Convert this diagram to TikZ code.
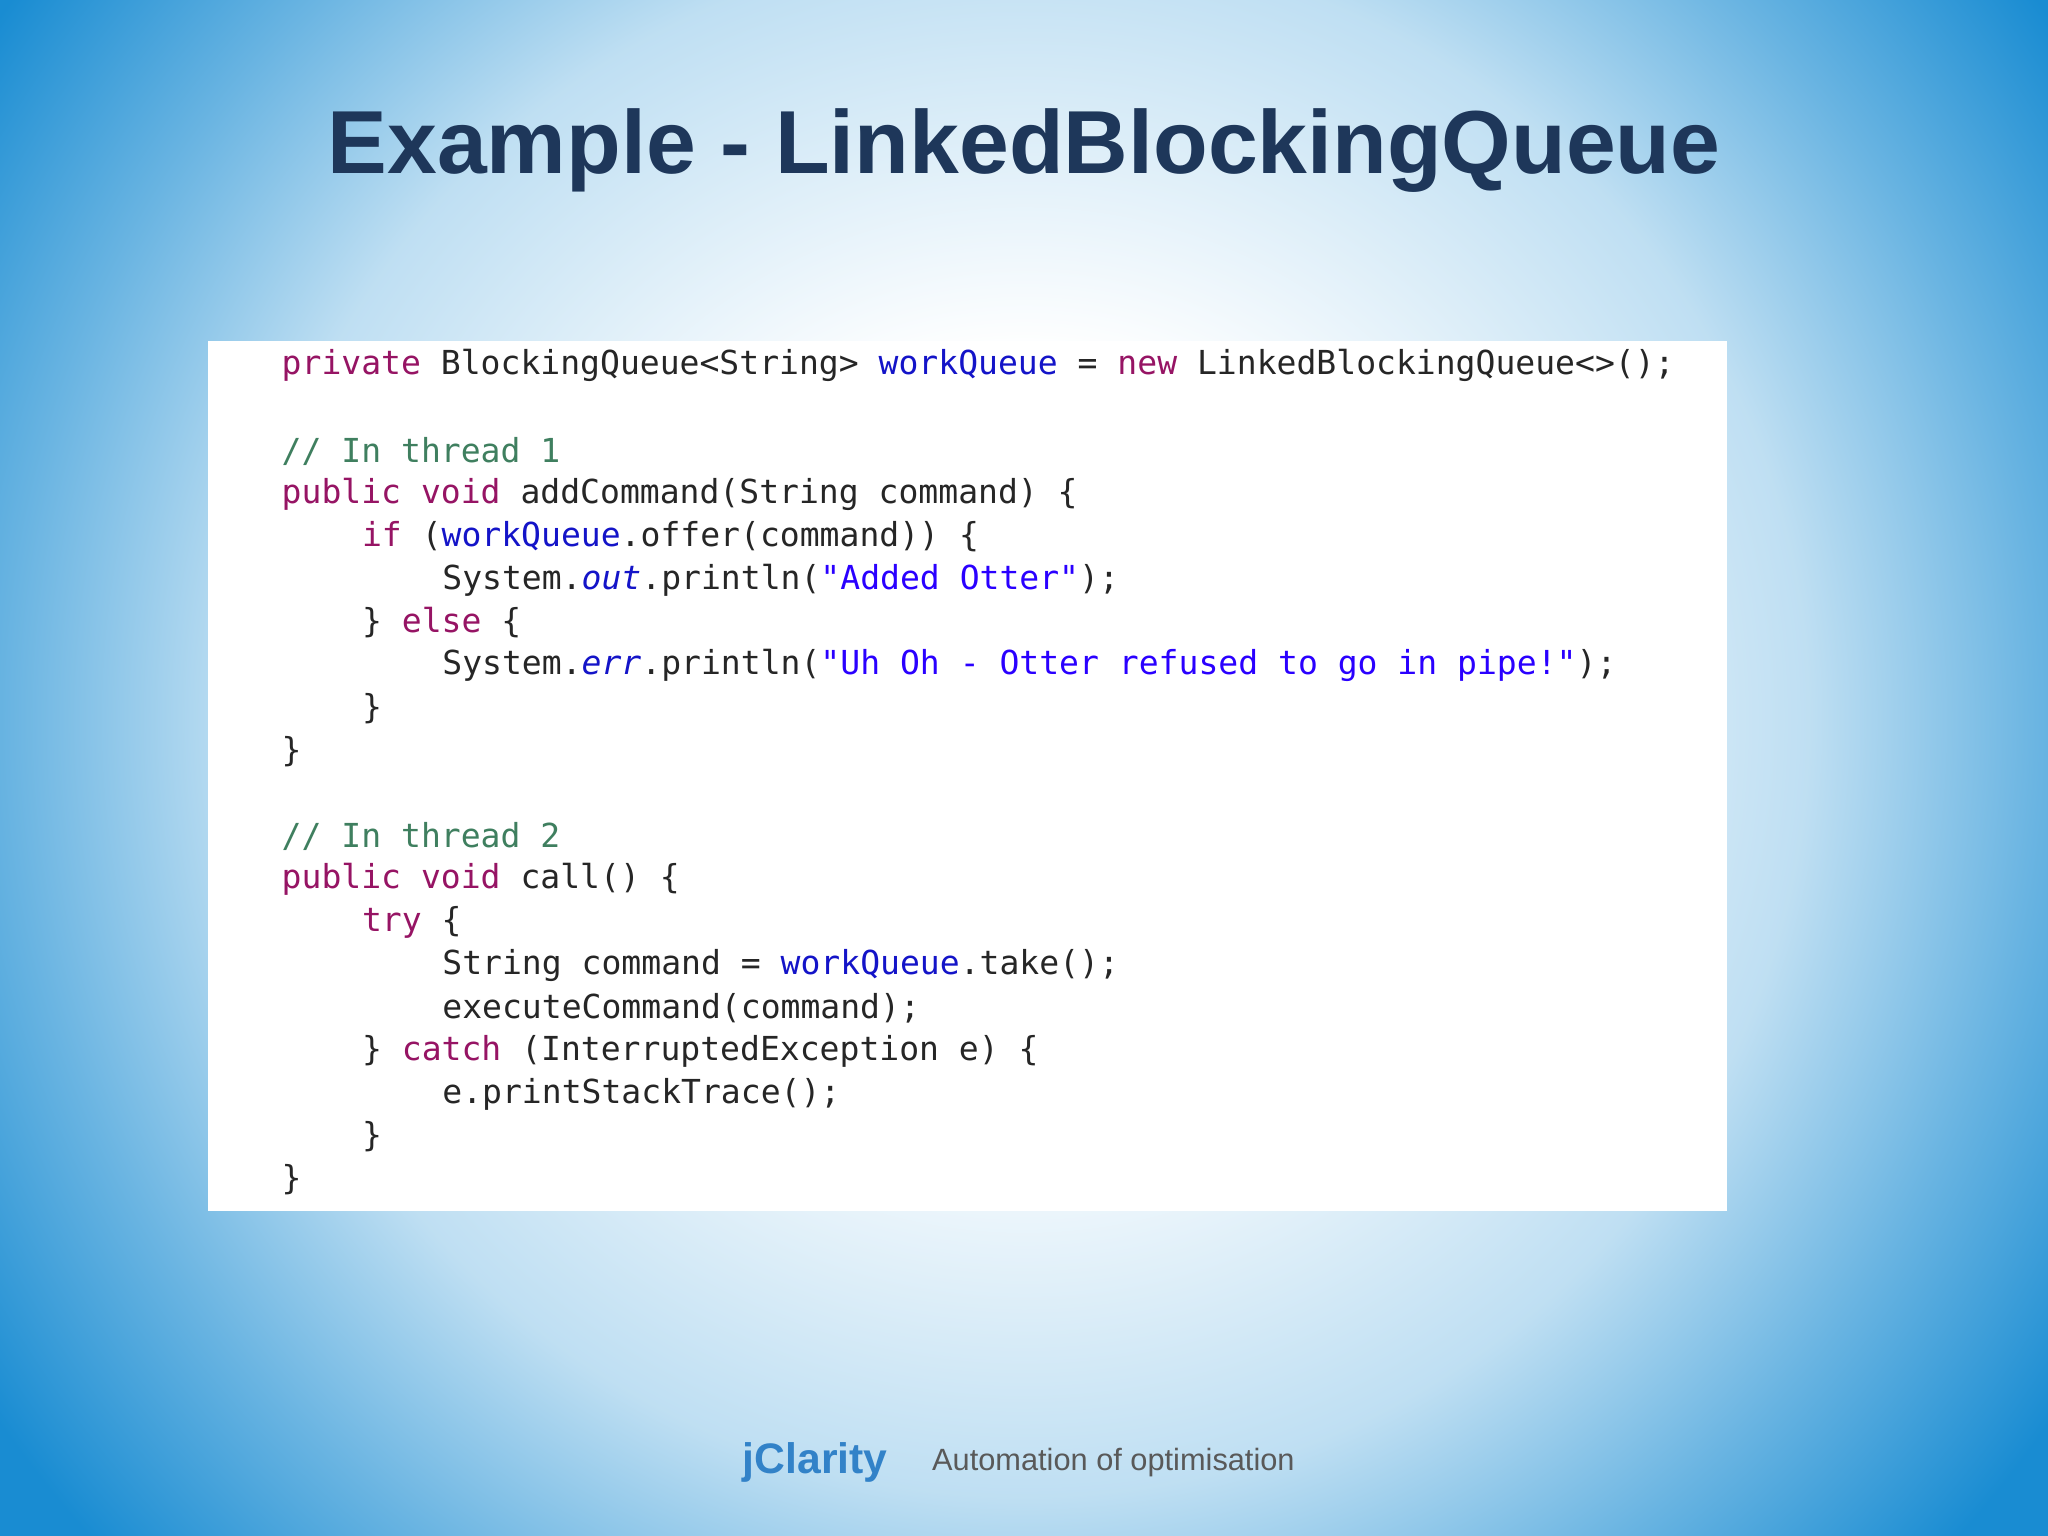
\documentclass[tikz,border=0pt]{standalone}
\usepackage{fontspec}
\setmainfont{Liberation Sans}
\newfontfamily\codefont[WordSpace={1,0,0}]{DejaVu Sans Mono}
\definecolor{bgblue}{RGB}{25,140,210}
\definecolor{navy}{RGB}{30,55,90}
\definecolor{kwc}{RGB}{150,20,100}
\definecolor{fldc}{RGB}{20,20,200}
\definecolor{strc}{RGB}{42,0,255}
\definecolor{cmc}{RGB}{63,127,95}
\definecolor{jcl}{RGB}{50,130,200}
\pgfdeclareradialshading{slidebg}{\pgfpoint{0bp}{0bp}}{color(0bp)=(white);color(8bp)=(white);color(17bp)=(bgblue!28!white);color(22bp)=(bgblue!65!white);color(27bp)=(bgblue);color(50bp)=(bgblue)}
\newcommand{\kw}[1]{\textcolor{kwc}{#1}}
\newcommand{\fld}[1]{\textcolor{fldc}{#1}}
\newcommand{\strg}[1]{\textcolor{strc}{#1}}
\newcommand{\cmt}[1]{\textcolor{cmc}{#1}}
\tikzset{codeline/.style={anchor=west,inner sep=0pt,font=\codefont\fontsize{7.2}{8}\selectfont,text=black!85}}
\begin{document}
\begin{tikzpicture}
\useasboundingbox (0,0) rectangle (15.68,11.76);
\begin{scope}
\clip (0,0) rectangle (15.68,11.76);
\shade[shading=slidebg] (-1.0,-2.5) rectangle (16.68,15.0);
\end{scope}
\node[font=\bfseries\fontsize{19.5}{24}\selectfont,text=navy] (title) at (7.84,10.61) {Example - LinkedBlockingQueue};
\fill[white] (1.59,11.76-2.61) rectangle (13.22,11.76-9.27);
\foreach \k/\ind/\txt in {
0/0/{\kw{private} BlockingQueue<String> \fld{workQueue} = \kw{new} LinkedBlockingQueue<>();},
2/0/{\cmt{// In thread 1}},
3/0/{\kw{public} \kw{void} addCommand(String command) \{},
4/1/{\kw{if} (\fld{workQueue}.offer(command)) \{},
5/2/{System.\fld{\itshape out}.println(\strg{"Added Otter"});},
6/1/{\} \kw{else} \{},
7/2/{System.\fld{\itshape err}.println(\strg{"Uh Oh - Otter refused to go in pipe!"});},
8/1/{\}},
9/0/{\}},
11/0/{\cmt{// In thread 2}},
12/0/{\kw{public} \kw{void} call() \{},
13/1/{\kw{try} \{},
14/2/{String command = \fld{workQueue}.take();},
15/2/{executeCommand(command);},
16/1/{\} \kw{catch} (InterruptedException e) \{},
17/2/{e.printStackTrace();},
18/1/{\}},
19/0/{\}}}
{\node[codeline] (l\k) at ({2.15+0.615*\ind},{11.76-2.80-0.328*\k}) {\txt};}
\node[font=\bfseries\fontsize{9.3}{12}\selectfont,text=jcl,anchor=west,inner sep=0pt] (jc) at (5.68,11.76-11.20) {jClarity};
\node[font=\fontsize{6.7}{8}\selectfont,text=black!65,anchor=west,inner sep=0pt] (tag) at (7.13,11.76-11.20) {Automation of optimisation};
\end{tikzpicture}
\end{document}
